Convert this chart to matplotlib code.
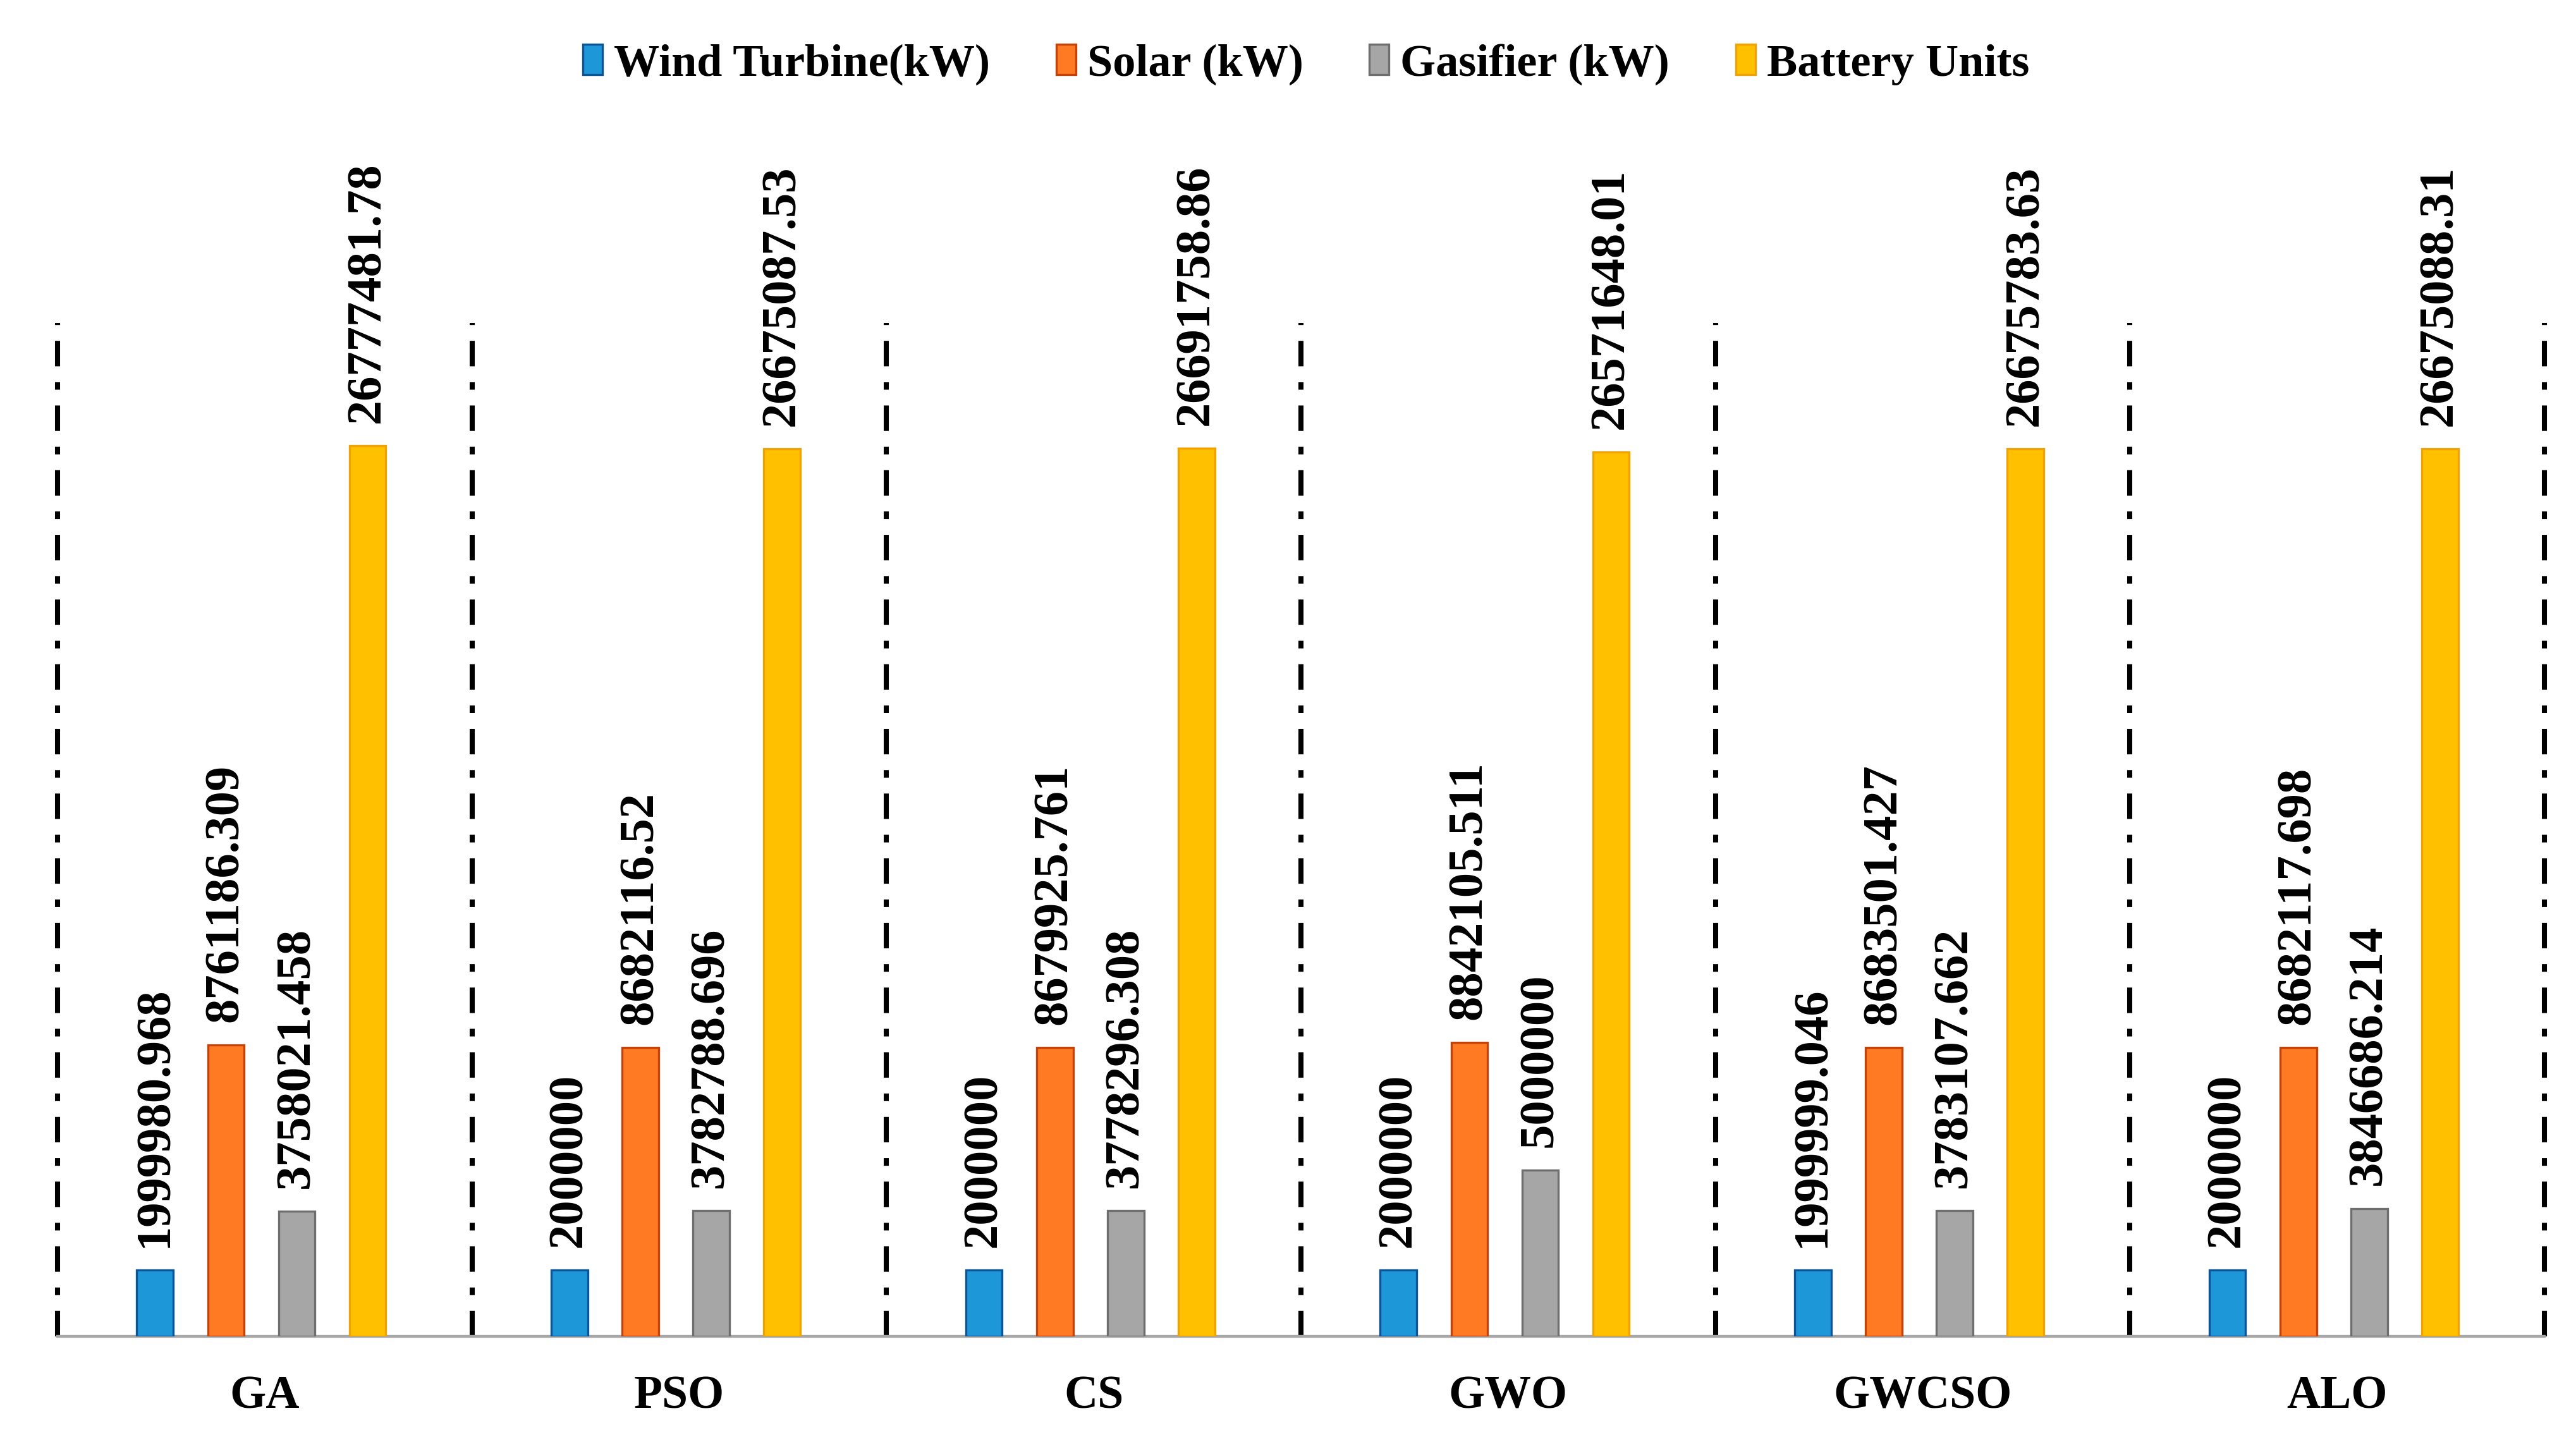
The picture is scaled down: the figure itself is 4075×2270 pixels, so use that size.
import matplotlib.pyplot as plt
import numpy as np

methods = ['GA', 'PSO', 'CS', 'GWO', 'GWCSO', 'ALO']
wind = [1999980.968, 2000000, 2000000, 2000000, 1999999.046, 2000000]
solar = [8761186.309, 8682116.52, 8679925.761, 8842105.511, 8683501.427, 8682117.698]
gasifier = [3758021.458, 3782788.696, 3778296.308, 5000000, 3783107.662, 3846686.214]
battery = [26777481.78, 26675087.53, 26691758.86, 26571648.01, 26675783.63, 26675088.31]
labels = [['1999980.968', '2000000', '2000000', '2000000', '1999999.046', '2000000'],
          ['8761186.309', '8682116.52', '8679925.761', '8842105.511', '8683501.427', '8682117.698'],
          ['3758021.458', '3782788.696', '3778296.308', '5000000', '3783107.662', '3846686.214'],
          ['26777481.78', '26675087.53', '26691758.86', '26571648.01', '26675783.63', '26675088.31']]
names = ['Wind Turbine(kW)', 'Solar (kW)', 'Gasifier (kW)', 'Battery Units']
faces = ['#1E97D9', '#FF7A22', '#A6A6A6', '#FFC000']
edges = ['#0B5596', '#C2420A', '#6E6E6E', '#F0A300']

plt.rcParams['font.family'] = ['Liberation Serif', 'DejaVu Serif']
plt.rcParams['font.weight'] = 'bold'

fig = plt.figure(figsize=(20.375, 11.35), dpi=200)
ax = fig.add_axes([0.0223, 0.0687, 0.9654, 0.6956])

x = np.arange(len(methods))
series = [wind, solar, gasifier, battery]
w = 0.088
step = 0.171
for i, vals in enumerate(series):
    pos = x + (i - 1.5) * step - 0.008
    ax.bar(pos, vals, w, color=faces[i], edgecolor=edges[i], linewidth=1.2, label=names[i], zorder=3)
    for p, v, t in zip(pos, vals, labels[i]):
        ax.annotate(t, xy=(p, v), xytext=(0, 13), textcoords='offset points',
                    rotation=90, ha='center', va='bottom', fontsize=28.3, fontweight='bold')

# dash-dot separators between groups
for b in np.arange(-0.5, len(methods), 1.0):
    ax.plot([b, b], [0, 30.45e6], color='black', lw=2.9, clip_on=False,
            linestyle=(0, (5, 3.1, 1.5, 3.1)), dash_capstyle='butt', zorder=2)

for i, m in enumerate(methods):
    ax.annotate(m, xy=(i, 0), xycoords=('data', 'axes fraction'), xytext=(0, -41),
                textcoords='offset points', ha='center', va='baseline', fontsize=26.5, fontweight='bold')

ax.set_xlim(-0.5, 5.5)
ax.set_ylim(0, 30e6)
ax.set_xticks([])
ax.set_yticks([])
for s in ['top', 'left', 'right']:
    ax.spines[s].set_visible(False)
ax.spines['bottom'].set_color('#A6A6A6')
ax.spines['bottom'].set_linewidth(1.6)

fig.legend(loc='center', bbox_to_anchor=(0.507, 0.955), ncol=4, frameon=False,
           fontsize=26, handlelength=0.43, handleheight=0.65, handletextpad=0.25,
           columnspacing=1.45)

fig.savefig('out.png', dpi=200)
